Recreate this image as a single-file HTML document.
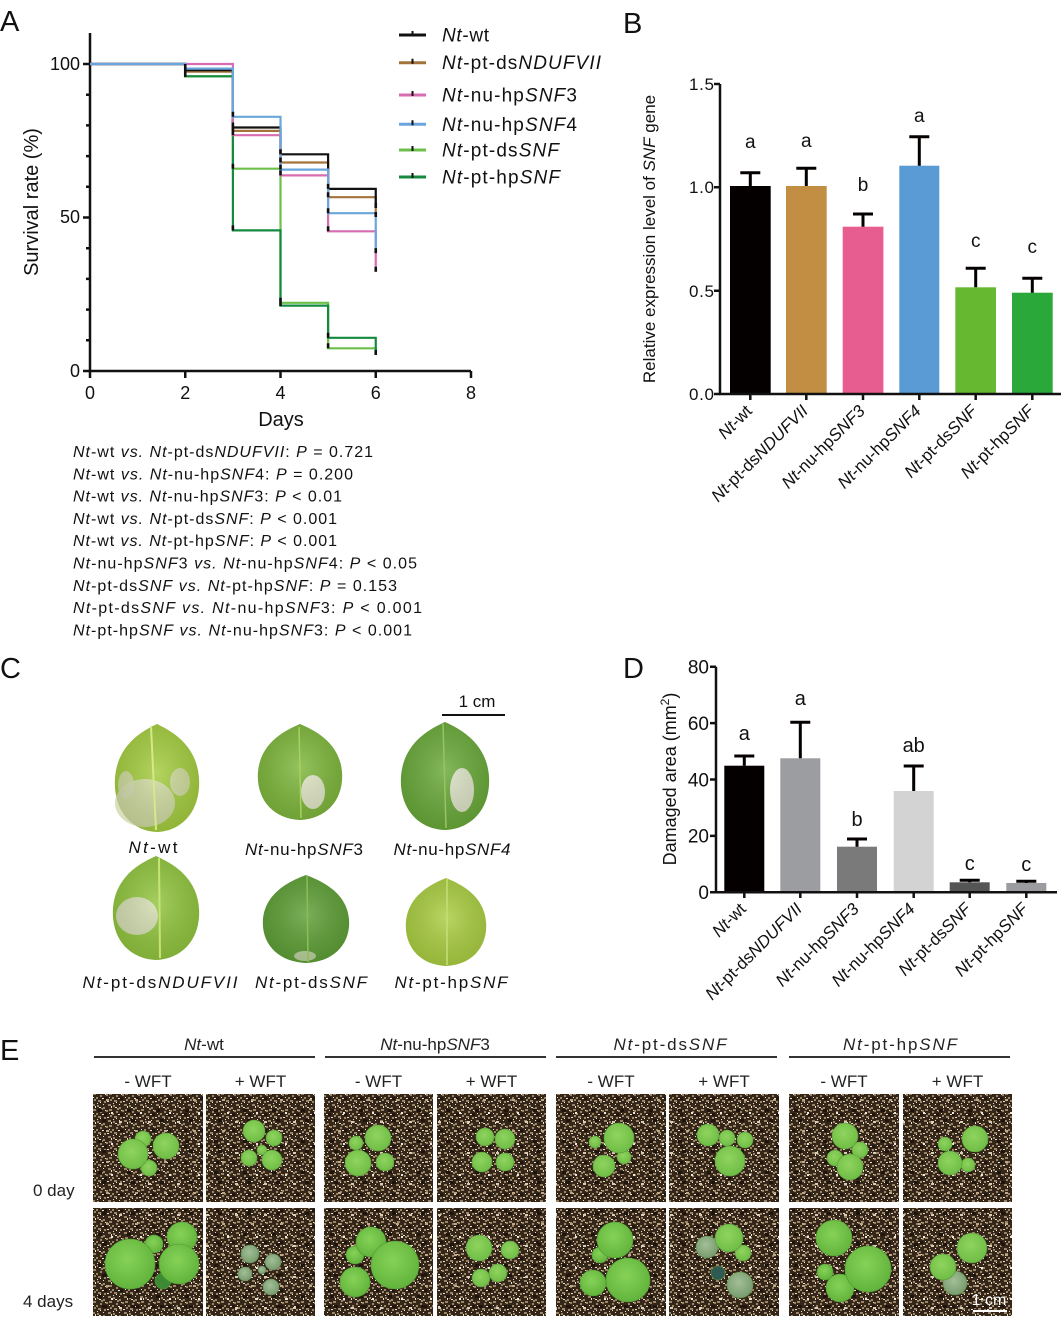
<!DOCTYPE html>
<html><head><meta charset="utf-8"><style>
html,body{margin:0;padding:0;background:#fff}
svg{display:block;font-family:"Liberation Sans",Arial,sans-serif}
</style></head><body>
<svg width="1062" height="1318" viewBox="0 0 1062 1318" xmlns="http://www.w3.org/2000/svg">
<defs>
<pattern id="soil" width="16" height="16" patternUnits="userSpaceOnUse">
<rect width="16" height="16" fill="#35261a"/>
<rect x="8" y="9" width="3" height="3" fill="#1f150c"/>
<g fill="#9c8566">
<rect x="1" y="1" width="2" height="2"/><rect x="7" y="3" width="2" height="2"/><rect x="4" y="7" width="2" height="2"/>
<rect x="10" y="6" width="2" height="2"/><rect x="14" y="11" width="2" height="2"/><rect x="8" y="13" width="2" height="2"/>
<rect x="5" y="4" width="2" height="2"/><rect x="0" y="9" width="2" height="2"/>
<rect x="12" y="0" width="3" height="2"/><rect x="2" y="12" width="3" height="2"/><rect x="13" y="5" width="3" height="2"/>
</g>
<g fill="#e8e2d4">
<rect x="3" y="3" width="2" height="1"/><rect x="11" y="13" width="2" height="1"/><rect x="6" y="10" width="2" height="1"/>
<rect x="15" y="2" width="1" height="2"/><rect x="9" y="6" width="1" height="1"/><rect x="1" y="15" width="1" height="1"/>
<rect x="13" y="9" width="1" height="1"/><rect x="7" y="0" width="1" height="1"/><rect x="4" y="14" width="1" height="1"/>
</g>
</pattern>
<pattern id="soil2" width="29" height="31" patternUnits="userSpaceOnUse">
<rect x="3" y="5" width="3" height="2" fill="#d8cdb6"/><rect x="19" y="14" width="3" height="2" fill="#bca886"/>
<rect x="11" y="24" width="4" height="3" fill="#1f150c"/><rect x="24" y="27" width="2" height="2" fill="#efe9dc"/>
<rect x="15" y="3" width="4" height="3" fill="#1f150c"/>
</pattern>
<radialGradient id="g1" cx="45%" cy="40%" r="65%"><stop offset="0" stop-color="#8fd45e"/><stop offset="1" stop-color="#6cbb44"/></radialGradient>
<radialGradient id="g2" cx="45%" cy="40%" r="65%"><stop offset="0" stop-color="#86d257"/><stop offset="1" stop-color="#5fb13a"/></radialGradient>
<radialGradient id="g3" cx="45%" cy="40%" r="65%"><stop offset="0" stop-color="#a3bf98"/><stop offset="1" stop-color="#73986a"/></radialGradient>
<radialGradient id="lf" cx="50%" cy="45%" r="60%"><stop offset="0" stop-color="#fff" stop-opacity="0.18"/><stop offset="1" stop-color="#000" stop-opacity="0.12"/></radialGradient>
<path id="leaf" d="M0,-1 C0.25,-0.9 0.95,-0.65 0.98,0.05 C1.0,0.6 0.6,0.98 0,1 C-0.6,0.98 -1.0,0.6 -0.98,0.05 C-0.95,-0.65 -0.25,-0.9 0,-1 Z"/>
</defs>
<rect width="1062" height="1318" fill="#fff"/>

<!-- Panel labels -->
<g font-size="29" fill="#111">
<text x="0" y="31">A</text><text x="623" y="33">B</text><text x="0" y="678">C</text><text x="623" y="678">D</text><text x="0" y="1060">E</text>
</g>

<!-- ========== Panel A ========== -->
<g stroke="#111" stroke-width="2.5" fill="none">
<path d="M90,33 V371 H471"/>
<path d="M83,64 H90 M83,217.5 H90 M83,371 H90"/>
<path d="M86,94.7 H90 M86,125.4 H90 M86,156.1 H90 M86,186.8 H90 M86,248.2 H90 M86,278.9 H90 M86,309.6 H90 M86,340.3 H90"/>
<path d="M90,371 V378 M185.25,371 V378 M280.5,371 V378 M375.75,371 V378 M471,371 V378"/>
</g>
<g font-size="18" fill="#111" text-anchor="end">
<text x="80" y="70">100</text><text x="80" y="223">50</text><text x="80" y="377">0</text>
</g>
<g font-size="18" fill="#111" text-anchor="middle">
<text x="90" y="399">0</text><text x="185.25" y="399">2</text><text x="280.5" y="399">4</text><text x="375.75" y="399">6</text><text x="471" y="399">8</text>
</g>
<text x="281" y="426" font-size="20" text-anchor="middle" fill="#111">Days</text>
<text transform="translate(38,202) rotate(-90)" font-size="20" text-anchor="middle" fill="#111">Survival rate (%)</text>

<g fill="none" stroke-width="2.2">
<path stroke="#6cc04a" d="M90,64 H185.25 V76.3 H232.9 V168.7 H280.5 V302.8 H328.1 V348.3 H375.75 V352"/>
<path stroke="#138a3e" d="M90,64 H185.25 V76.3 H232.9 V230.4 H280.5 V305.6 H328.1 V337.8 H375.75 V355"/>
<path stroke="#a5733a" d="M90,64 H185.25 V71.7 H232.9 V130.9 H280.5 V162.5 H328.1 V197.2 H375.75 V217"/>
<path stroke="#111" d="M90,64 H185.25 V70.1 H232.9 V127.5 H280.5 V154.3 H328.1 V188.9 H375.75 V208"/>
<path stroke="#d96bb0" d="M90,64 H232.9 V135.2 H280.5 V175.4 H328.1 V231.3 H375.75 V271.8"/>
<path stroke="#6aa6de" d="M90,64 H185.25 V68.6 H232.9 V116.8 H280.5 V169.6 H328.1 V213.2 H375.75 V253.1"/>
</g>
<g stroke="#111" stroke-width="2.6" fill="none">
<path d="M185.25,64 V77 M232.9,111.8 V116.8 M232.9,122.5 V127.5 M232.9,126 V131 M232.9,130.2 V135.2 M232.9,163.7 V168.7 M232.9,225.4 V230.4
M280.5,149.3 V154.3 M280.5,157.5 V162.5 M280.5,164.6 V169.6 M280.5,170.4 V175.4 M280.5,297.8 V306
M328.1,183.9 V188.9 M328.1,192.2 V197.2 M328.1,208.2 V213.2 M328.1,226.3 V231.3 M328.1,332.8 V337.8 M328.1,343.3 V348.3
M375.75,203 V208 M375.75,212 V217 M375.75,248.1 V253.1 M375.75,266.8 V271.8 M375.75,350 V355"/>
</g>
<!-- legend -->
<g stroke-width="3">
<path stroke="#111" d="M399,35 H426"/><path stroke="#a5733a" d="M399,62.7 H426"/><path stroke="#d96bb0" d="M399,95 H426"/>
<path stroke="#6aa6de" d="M399,124.3 H426"/><path stroke="#6cc04a" d="M399,150 H426"/><path stroke="#138a3e" d="M399,177 H426"/>
</g>
<g stroke="#111" stroke-width="2"><path d="M412.5,31 V36 M412.5,58.7 V63.7 M412.5,91 V96 M412.5,120.3 V125.3 M412.5,146 V151 M412.5,173 V178"/></g>
<g font-size="19" fill="#111">
<text x="442" y="41.5" textLength="47" lengthAdjust="spacing"><tspan font-style="italic">Nt</tspan>-wt</text>
<text x="442" y="69.2" textLength="159" lengthAdjust="spacing"><tspan font-style="italic">Nt</tspan>-pt-ds<tspan font-style="italic">NDUFVII</tspan></text>
<text x="442" y="101.5" textLength="135" lengthAdjust="spacing"><tspan font-style="italic">Nt</tspan>-nu-hp<tspan font-style="italic">SNF</tspan>3</text>
<text x="442" y="130.8" textLength="135" lengthAdjust="spacing"><tspan font-style="italic">Nt</tspan>-nu-hp<tspan font-style="italic">SNF</tspan>4</text>
<text x="442" y="156.5" textLength="117" lengthAdjust="spacing"><tspan font-style="italic">Nt</tspan>-pt-ds<tspan font-style="italic">SNF</tspan></text>
<text x="442" y="183.5" textLength="118" lengthAdjust="spacing"><tspan font-style="italic">Nt</tspan>-pt-hp<tspan font-style="italic">SNF</tspan></text>
</g>

<!-- stats text -->
<g font-size="16" fill="#111">
<text x="73" y="457" textLength="300" lengthAdjust="spacing"><tspan font-style="italic">Nt</tspan>-wt <tspan font-style="italic">vs.</tspan> <tspan font-style="italic">Nt</tspan>-pt-ds<tspan font-style="italic">NDUFVII</tspan>: <tspan font-style="italic">P</tspan> = 0.721</text>
<text x="73" y="479.3" textLength="280" lengthAdjust="spacing"><tspan font-style="italic">Nt</tspan>-wt <tspan font-style="italic">vs.</tspan> <tspan font-style="italic">Nt</tspan>-nu-hp<tspan font-style="italic">SNF</tspan>4: <tspan font-style="italic">P</tspan> = 0.200</text>
<text x="73" y="501.6" textLength="269" lengthAdjust="spacing"><tspan font-style="italic">Nt</tspan>-wt <tspan font-style="italic">vs.</tspan> <tspan font-style="italic">Nt</tspan>-nu-hp<tspan font-style="italic">SNF</tspan>3: <tspan font-style="italic">P</tspan> &lt; 0.01</text>
<text x="73" y="523.9" textLength="264" lengthAdjust="spacing"><tspan font-style="italic">Nt</tspan>-wt <tspan font-style="italic">vs.</tspan> <tspan font-style="italic">Nt</tspan>-pt-ds<tspan font-style="italic">SNF</tspan>: <tspan font-style="italic">P</tspan> &lt; 0.001</text>
<text x="73" y="546.2" textLength="264" lengthAdjust="spacing"><tspan font-style="italic">Nt</tspan>-wt <tspan font-style="italic">vs.</tspan> <tspan font-style="italic">Nt</tspan>-pt-hp<tspan font-style="italic">SNF</tspan>: <tspan font-style="italic">P</tspan> &lt; 0.001</text>
<text x="73" y="568.5" textLength="344" lengthAdjust="spacing"><tspan font-style="italic">Nt</tspan>-nu-hp<tspan font-style="italic">SNF</tspan>3 <tspan font-style="italic">vs.</tspan> <tspan font-style="italic">Nt</tspan>-nu-hp<tspan font-style="italic">SNF</tspan>4: <tspan font-style="italic">P</tspan> &lt; 0.05</text>
<text x="73" y="590.8" textLength="324" lengthAdjust="spacing"><tspan font-style="italic">Nt</tspan>-pt-ds<tspan font-style="italic">SNF</tspan> <tspan font-style="italic">vs.</tspan> <tspan font-style="italic">Nt</tspan>-pt-hp<tspan font-style="italic">SNF</tspan>: <tspan font-style="italic">P</tspan> = 0.153</text>
<text x="73" y="613.1" textLength="349" lengthAdjust="spacing"><tspan font-style="italic">Nt</tspan>-pt-ds<tspan font-style="italic">SNF</tspan> <tspan font-style="italic">vs.</tspan>  <tspan font-style="italic">Nt</tspan>-nu-hp<tspan font-style="italic">SNF</tspan>3: <tspan font-style="italic">P</tspan> &lt; 0.001</text>
<text x="73" y="635.4" textLength="339" lengthAdjust="spacing"><tspan font-style="italic">Nt</tspan>-pt-hp<tspan font-style="italic">SNF</tspan> <tspan font-style="italic">vs.</tspan> <tspan font-style="italic">Nt</tspan>-nu-hp<tspan font-style="italic">SNF</tspan>3: <tspan font-style="italic">P</tspan> &lt; 0.001</text>
</g>

<!-- ========== Panel B ========== -->
<rect x="730" y="186" width="40.7" height="208" fill="#050000"/>
<rect x="786" y="186" width="40.7" height="208" fill="#c18e43"/>
<rect x="842.7" y="226.7" width="40.7" height="167.3" fill="#e85d8f"/>
<rect x="899.3" y="165.7" width="40" height="228.3" fill="#5b9bd5"/>
<rect x="955.3" y="287.3" width="40.7" height="106.7" fill="#66b831"/>
<rect x="1012" y="292.7" width="40.7" height="101.3" fill="#2aa83a"/>
<g stroke="#050000" stroke-width="3" fill="none">
<path d="M750.3,186 V172.7 M740.3,172.7 H760.3"/>
<path d="M806.3,186 V168.3 M796.3,168.3 H816.3"/>
<path d="M863,226.7 V214 M853,214 H873"/>
<path d="M919.3,165.7 V136.7 M909.3,136.7 H929.3"/>
<path d="M975.7,287.3 V268.3 M965.7,268.3 H985.7"/>
<path d="M1032.3,292.7 V278.3 M1022.3,278.3 H1042.3"/>
</g>
<g stroke="#111" stroke-width="2.5" fill="none">
<path d="M720,84 V394 H1061"/>
<path d="M714,84 H720 M714,187.3 H720 M714,290.7 H720 M714,394 H720"/>
<path d="M750.3,394 V400 M806.3,394 V400 M863,394 V400 M919.3,394 V400 M975.7,394 V400 M1032.3,394 V400"/>
</g>
<g font-size="17" fill="#111" text-anchor="end">
<text x="714" y="90" textLength="25" lengthAdjust="spacing">1.5</text>
<text x="714" y="193" textLength="25" lengthAdjust="spacing">1.0</text>
<text x="714" y="297" textLength="25" lengthAdjust="spacing">0.5</text>
<text x="714" y="400" textLength="25" lengthAdjust="spacing">0.0</text>
</g>
<text transform="translate(655,239) rotate(-90)" font-size="17" text-anchor="middle" fill="#111">Relative expression level of <tspan font-style="italic">SNF</tspan> gene</text>
<g font-size="19" fill="#111" text-anchor="middle">
<text x="750.3" y="148">a</text><text x="806.3" y="147">a</text><text x="863" y="191">b</text>
<text x="919.3" y="122">a</text><text x="975.7" y="247">c</text><text x="1032.3" y="253">c</text>
</g>
<g font-size="17" fill="#111" text-anchor="end">
<text transform="translate(753,412) rotate(-45)"><tspan font-style="italic">Nt</tspan>-wt</text>
<text transform="translate(809,412) rotate(-45)"><tspan font-style="italic">Nt</tspan>-pt-ds<tspan font-style="italic">NDUFVII</tspan></text>
<text transform="translate(866,412) rotate(-45)"><tspan font-style="italic">Nt</tspan>-nu-hp<tspan font-style="italic">SNF3</tspan></text>
<text transform="translate(922,412) rotate(-45)"><tspan font-style="italic">Nt</tspan>-nu-hp<tspan font-style="italic">SNF4</tspan></text>
<text transform="translate(978,412) rotate(-45)"><tspan font-style="italic">Nt</tspan>-pt-ds<tspan font-style="italic">SNF</tspan></text>
<text transform="translate(1035,412) rotate(-45)"><tspan font-style="italic">Nt</tspan>-pt-hp<tspan font-style="italic">SNF</tspan></text>
</g>

<!-- ========== Panel C ========== -->
<g>
<use href="#leaf" transform="translate(157,778) scale(43,54)" fill="#a3cc3e"/>
<ellipse cx="145" cy="803" rx="30" ry="24" fill="#d5dbb0" opacity="0.85"/>
<ellipse cx="180" cy="782" rx="10" ry="14" fill="#d5dbb0" opacity="0.8"/>
<ellipse cx="126" cy="785" rx="8" ry="14" fill="#d5dbb0" opacity="0.8"/>
<use href="#leaf" transform="translate(157,778) scale(43,54)" fill="url(#lf)"/>
<path d="M151,726 L156,830" stroke="#d6e88a" stroke-width="2" fill="none"/>

<use href="#leaf" transform="translate(300,772) scale(43,48)" fill="#7db63b"/>
<ellipse cx="313" cy="792" rx="12" ry="17" fill="#dfe5c4"/>
<use href="#leaf" transform="translate(300,772) scale(43,48)" fill="url(#lf)"/>
<path d="M299,727 L301,818" stroke="#a8d060" stroke-width="1.5" fill="none"/>

<use href="#leaf" transform="translate(445,776) scale(45,54)" fill="#68a838"/>
<ellipse cx="462" cy="790" rx="12" ry="22" fill="#d9e0c2"/>
<use href="#leaf" transform="translate(445,776) scale(45,54)" fill="url(#lf)"/>
<path d="M443,724 L446,828" stroke="#97c460" stroke-width="1.5" fill="none"/>

<use href="#leaf" transform="translate(156,908) scale(44,52)" fill="#90c43d"/>
<ellipse cx="137" cy="916" rx="21" ry="19" fill="#d9dfbd" opacity="0.9"/>
<use href="#leaf" transform="translate(156,908) scale(44,52)" fill="url(#lf)"/>
<path d="M159,858 L160,958" stroke="#c8e27a" stroke-width="2" fill="none"/>

<use href="#leaf" transform="translate(306,919) scale(44,44)" fill="#5d9e35"/>
<ellipse cx="305" cy="956" rx="11" ry="5" fill="#b9cf9c"/>
<use href="#leaf" transform="translate(306,919) scale(44,44)" fill="url(#lf)"/>
<path d="M307,876 L308,962" stroke="#8dbd55" stroke-width="1.5" fill="none"/>

<use href="#leaf" transform="translate(446,922) scale(41,44)" fill="#a9cd40"/>
<use href="#leaf" transform="translate(446,922) scale(41,44)" fill="url(#lf)"/>
<path d="M447,879 L447,965" stroke="#c6df78" stroke-width="1.5" fill="none"/>
</g>
<path d="M442,715 H505" stroke="#111" stroke-width="2"/>
<text x="477" y="707" font-size="17" text-anchor="middle" fill="#111">1 cm</text>
<g font-size="17" fill="#111" text-anchor="middle">
<text x="153" y="853" textLength="49" lengthAdjust="spacing"><tspan font-style="italic">Nt</tspan>-wt</text>
<text x="304" y="855" textLength="118" lengthAdjust="spacing"><tspan font-style="italic">Nt</tspan>-nu-hp<tspan font-style="italic">SNF</tspan>3</text>
<text x="452" y="855" textLength="117" lengthAdjust="spacing"><tspan font-style="italic">Nt</tspan>-nu-hp<tspan font-style="italic">SNF4</tspan></text>
<text x="160" y="988" textLength="155" lengthAdjust="spacing"><tspan font-style="italic">Nt</tspan>-pt-ds<tspan font-style="italic">NDUFVII</tspan></text>
<text x="311" y="988" textLength="112" lengthAdjust="spacing"><tspan font-style="italic">Nt</tspan>-pt-ds<tspan font-style="italic">SNF</tspan></text>
<text x="451" y="988" textLength="113" lengthAdjust="spacing"><tspan font-style="italic">Nt</tspan>-pt-hp<tspan font-style="italic">SNF</tspan></text>
</g>

<!-- ========== Panel D ========== -->
<rect x="724.3" y="765.7" width="40" height="126.6" fill="#050000"/>
<rect x="780.3" y="758.3" width="40" height="134" fill="#9c9da1"/>
<rect x="837" y="846.7" width="40" height="45.6" fill="#7a7a7a"/>
<rect x="893.7" y="791" width="40" height="101.3" fill="#d3d3d3"/>
<rect x="949.7" y="882.3" width="40" height="10" fill="#555555"/>
<rect x="1006.3" y="883" width="40" height="9.3" fill="#9b9ca0"/>
<g stroke="#050000" stroke-width="3" fill="none">
<path d="M744.3,765.7 V756 M734.3,756 H754.3"/>
<path d="M800.3,758.3 V722.3 M790.3,722.3 H810.3"/>
<path d="M857,846.7 V839 M847,839 H867"/>
<path d="M913.7,791 V766 M903.7,766 H923.7"/>
<path d="M969.7,882.3 V880.3 M959.7,880.3 H979.7"/>
<path d="M1026.3,883 V881.3 M1016.3,881.3 H1036.3"/>
</g>
<g stroke="#111" stroke-width="2.5" fill="none">
<path d="M716,666.7 V892.3 H1057"/>
<path d="M710,666.7 H716 M710,723.1 H716 M710,779.5 H716 M710,835.9 H716 M710,892.3 H716"/>
<path d="M744.3,892.3 V898 M800.3,892.3 V898 M857,892.3 V898 M913.7,892.3 V898 M969.7,892.3 V898 M1026.3,892.3 V898"/>
</g>
<g font-size="19" fill="#111" text-anchor="end">
<text x="709" y="673.5">80</text><text x="709" y="730">60</text><text x="709" y="786.3">40</text>
<text x="709" y="842.7">20</text><text x="709" y="899">0</text>
</g>
<text transform="translate(676,779) rotate(-90)" font-size="18" text-anchor="middle" fill="#111">Damaged area (mm<tspan font-size="12" dy="-7">2</tspan><tspan dy="7">)</tspan></text>
<g font-size="20" fill="#111" text-anchor="middle">
<text x="744.3" y="740">a</text><text x="800.3" y="705">a</text><text x="857" y="826">b</text>
<text x="913.7" y="752">ab</text><text x="969.7" y="870">c</text><text x="1026.3" y="871">c</text>
</g>
<g font-size="17" fill="#111" text-anchor="end">
<text transform="translate(747,910) rotate(-45)"><tspan font-style="italic">Nt</tspan>-wt</text>
<text transform="translate(803,910) rotate(-45)"><tspan font-style="italic">Nt</tspan>-pt-ds<tspan font-style="italic">NDUFVII</tspan></text>
<text transform="translate(860,910) rotate(-45)"><tspan font-style="italic">Nt</tspan>-nu-hp<tspan font-style="italic">SNF3</tspan></text>
<text transform="translate(916,910) rotate(-45)"><tspan font-style="italic">Nt</tspan>-nu-hp<tspan font-style="italic">SNF4</tspan></text>
<text transform="translate(972,910) rotate(-45)"><tspan font-style="italic">Nt</tspan>-pt-ds<tspan font-style="italic">SNF</tspan></text>
<text transform="translate(1029,910) rotate(-45)"><tspan font-style="italic">Nt</tspan>-pt-hp<tspan font-style="italic">SNF</tspan></text>
</g>

<!-- ========== Panel E ========== -->
<g font-size="17" fill="#222" text-anchor="middle">
<text x="204" y="1050"><tspan font-style="italic">Nt</tspan>-wt</text>
<text x="435" y="1050"><tspan font-style="italic">Nt</tspan>-nu-hp<tspan font-style="italic">SNF</tspan>3</text>
<text x="670" y="1050" textLength="113" lengthAdjust="spacing"><tspan font-style="italic">Nt</tspan>-pt-ds<tspan font-style="italic">SNF</tspan></text>
<text x="900" y="1050" textLength="114" lengthAdjust="spacing"><tspan font-style="italic">Nt</tspan>-pt-hp<tspan font-style="italic">SNF</tspan></text>
</g>
<g stroke="#333" stroke-width="2"><path d="M94,1057 H315 M325,1057 H546 M556,1057 H777 M789,1057 H1010"/></g>
<g font-size="17" fill="#222" text-anchor="middle">
<text x="148" y="1087">- WFT</text><text x="260.5" y="1087">+ WFT</text>
<text x="378.5" y="1087">- WFT</text><text x="491.5" y="1087">+ WFT</text>
<text x="611" y="1087">- WFT</text><text x="724" y="1087">+ WFT</text>
<text x="844" y="1087">- WFT</text><text x="957.5" y="1087">+ WFT</text>
</g>
<g font-size="17" fill="#222">
<text x="33" y="1196">0 day</text><text x="23" y="1307">4 days</text>
</g>
<!-- photos -->
<g>
<rect x="93" y="1094" width="110" height="108" fill="url(#soil)"/><rect x="206" y="1094" width="109" height="108" fill="url(#soil)"/>
<rect x="324" y="1094" width="109" height="108" fill="url(#soil)"/><rect x="437" y="1094" width="109" height="108" fill="url(#soil)"/>
<rect x="556" y="1094" width="110" height="108" fill="url(#soil)"/><rect x="669" y="1094" width="110" height="108" fill="url(#soil)"/>
<rect x="789" y="1094" width="110" height="108" fill="url(#soil)"/><rect x="903" y="1094" width="109" height="108" fill="url(#soil)"/>
<rect x="93" y="1208" width="110" height="108" fill="url(#soil)"/><rect x="206" y="1208" width="109" height="108" fill="url(#soil)"/>
<rect x="324" y="1208" width="109" height="108" fill="url(#soil)"/><rect x="437" y="1208" width="109" height="108" fill="url(#soil)"/>
<rect x="556" y="1208" width="110" height="108" fill="url(#soil)"/><rect x="669" y="1208" width="110" height="108" fill="url(#soil)"/>
<rect x="789" y="1208" width="110" height="108" fill="url(#soil)"/><rect x="903" y="1208" width="109" height="108" fill="url(#soil)"/>
</g>
<g>
<rect x="93" y="1094" width="110" height="108" fill="url(#soil2)"/><rect x="206" y="1094" width="109" height="108" fill="url(#soil2)"/>
<rect x="324" y="1094" width="109" height="108" fill="url(#soil2)"/><rect x="437" y="1094" width="109" height="108" fill="url(#soil2)"/>
<rect x="556" y="1094" width="110" height="108" fill="url(#soil2)"/><rect x="669" y="1094" width="110" height="108" fill="url(#soil2)"/>
<rect x="789" y="1094" width="110" height="108" fill="url(#soil2)"/><rect x="903" y="1094" width="109" height="108" fill="url(#soil2)"/>
<rect x="93" y="1208" width="110" height="108" fill="url(#soil2)"/><rect x="206" y="1208" width="109" height="108" fill="url(#soil2)"/>
<rect x="324" y="1208" width="109" height="108" fill="url(#soil2)"/><rect x="437" y="1208" width="109" height="108" fill="url(#soil2)"/>
<rect x="556" y="1208" width="110" height="108" fill="url(#soil2)"/><rect x="669" y="1208" width="110" height="108" fill="url(#soil2)"/>
<rect x="789" y="1208" width="110" height="108" fill="url(#soil2)"/><rect x="903" y="1208" width="109" height="108" fill="url(#soil2)"/>
</g>
<!-- row 1 seedlings -->
<g fill="url(#g1)" stroke="#5a9c3a" stroke-width="0.6">
<circle cx="143" cy="1139" r="8"/><circle cx="149" cy="1168" r="8"/><circle cx="133" cy="1154" r="15"/><circle cx="166" cy="1146" r="13"/>
<circle cx="262" cy="1150" r="5"/><circle cx="274" cy="1138" r="8"/><circle cx="254" cy="1131" r="11"/><circle cx="249" cy="1158" r="8"/><circle cx="272" cy="1160" r="10"/>
<circle cx="356" cy="1143" r="7"/><circle cx="385" cy="1162" r="9"/><circle cx="378" cy="1138" r="13"/><circle cx="358" cy="1163" r="13"/>
<circle cx="485" cy="1137" r="9"/><circle cx="505" cy="1139" r="10"/><circle cx="482" cy="1162" r="10"/><circle cx="505" cy="1162" r="9"/>
<circle cx="595" cy="1142" r="6"/><circle cx="624" cy="1157" r="7"/><circle cx="619" cy="1138" r="15"/><circle cx="604" cy="1166" r="11"/>
<circle cx="727" cy="1138" r="8"/><circle cx="745" cy="1140" r="8"/><circle cx="708" cy="1135" r="11"/><circle cx="730" cy="1161" r="15"/>
<circle cx="835" cy="1158" r="8"/><circle cx="860" cy="1150" r="8"/><circle cx="845" cy="1136" r="13"/><circle cx="850" cy="1167" r="13"/>
<circle cx="945" cy="1144" r="7"/><circle cx="968" cy="1165" r="7"/><circle cx="975" cy="1139" r="13"/><circle cx="950" cy="1163" r="12"/>
</g>
<!-- row 2 plants -->
<g fill="url(#g2)" stroke="#4f9a33" stroke-width="0.6">
<circle cx="154" cy="1244" r="9"/><circle cx="182" cy="1237" r="15"/><circle cx="163" cy="1281" r="8" fill="#3d8a35"/><circle cx="179" cy="1264" r="20"/><circle cx="130" cy="1264" r="25"/>
<circle cx="355" cy="1255" r="9"/><circle cx="371" cy="1242" r="15"/><circle cx="355" cy="1282" r="15"/><circle cx="395" cy="1265" r="24"/>
<circle cx="600" cy="1255" r="8"/><circle cx="615" cy="1240" r="18"/><circle cx="593" cy="1283" r="13"/><circle cx="628" cy="1280" r="22"/>
<circle cx="825" cy="1272" r="8"/><circle cx="834" cy="1238" r="18"/><circle cx="840" cy="1288" r="14"/><circle cx="868" cy="1269" r="23"/>
</g>
<g fill="url(#g3)" stroke="#5f8a58" stroke-width="0.6">
<circle cx="250" cy="1254" r="9"/><circle cx="273" cy="1262" r="8"/><circle cx="245" cy="1274" r="7"/><circle cx="271" cy="1287" r="8"/><circle cx="262" cy="1270" r="4"/>
</g>
<g fill="url(#g1)" stroke="#5a9040" stroke-width="0.6">
<circle cx="510" cy="1250" r="9"/><circle cx="481" cy="1278" r="9"/><circle cx="498" cy="1273" r="9"/><circle cx="479" cy="1248" r="13"/>
<circle cx="707" cy="1247" r="11" fill="url(#g3)"/><circle cx="743" cy="1253" r="8"/><circle cx="718" cy="1273" r="7" fill="#2f5a52"/><circle cx="740" cy="1285" r="13" fill="url(#g3)"/><circle cx="729" cy="1238" r="14"/>
<circle cx="955" cy="1283" r="12" fill="url(#g3)"/><circle cx="943" cy="1267" r="13"/><circle cx="972" cy="1248" r="15"/>
</g>
<text x="989" y="1305" font-size="16" fill="#fff" text-anchor="middle">1 cm</text>
<path d="M973,1311 H1007" stroke="#fff" stroke-width="2"/>
</svg>
</body></html>
